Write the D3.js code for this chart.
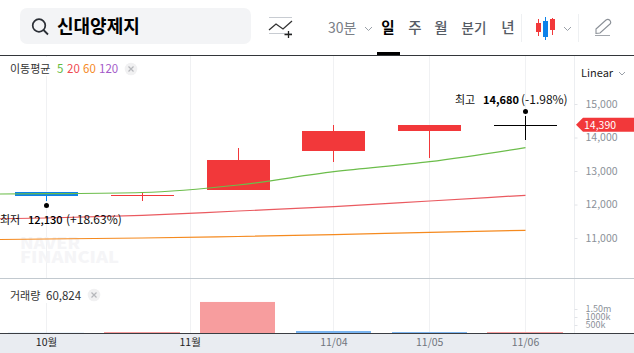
<!DOCTYPE html>
<html><head><meta charset="utf-8">
<script src="https://cdn.jsdelivr.net/npm/d3@7"></script>
<style>
html,body{margin:0;padding:0;background:#fff;overflow:hidden}
svg{display:block}
text{font-family:"Noto Sans CJK KR","Noto Sans",sans-serif}
</style></head><body><svg id="c" width="634" height="353"></svg>
<script>
// Data
const openP  = [12370,12290,12433,13597,14194,14390];
const closeP = [12250,12290,13328,14194,14373,14390];
const highP  = [12370,12390,13687,14373,14373,14640];
const lowP   = [12105,12100,12433,13269,13388,13925];
const candleColors = ["#0c82ea","#f2383a","#f2383a","#f2383a","#f2383a","#000000"];
const ma5   = [12305,12322,12358,12582,12979,13278,13696];
const ma20  = [11552,11597,11678,11806,11934,12104,12275];
const ma60  = [10940,10970,11000,11045,11098,11170,11230];
const maIdx = [-1,0,1,2,3,4,5];
const volume = [8000,62000,1940000,125000,60000,60824];
const volColors = ["#79b4f0","#f79d9e","#f79d9e","#79b4f0","#79b4f0","#f79d9e"];
const priceTicks = [11000,12000,13000,14000,15000];
const volTicks = [500000,1000000,1500000];
const volTickLabels = ["500k","1000k","1.50m"];
const gridIdx = [0,1.5,3,4,5];
const dateLabels = ["10월","11월","11/04","11/05","11/06"];
const periods = ["일","주","월","분기","년"];
const periodX = [388,415,441,474,508];

const svg = d3.select("#c");
const x = d3.scaleLinear().domain([0,5]).range([46,525]);
const y = d3.scaleLinear().domain([11000,15000]).range([238,104]);
const yv = d3.scaleLinear().domain([0,500000]).range([333,325]);
const snapY = v => Math.round(y(v)+0.2);
const FONT='"Noto Sans CJK KR","Noto Sans",sans-serif';
function t(px,py,s,o={}){return svg.append("text").attr("x",px).attr("y",py).text(s)
  .attr("font-size",o.size||12).attr("fill",o.fill||"#222").attr("font-weight",o.weight||400)
  .attr("text-anchor",o.anchor||"start");}

// plot frame
svg.append("clipPath").attr("id","plot").append("rect").attr("x",0).attr("y",56).attr("width",574).attr("height",277);
// grid
svg.selectAll("line.g").data(gridIdx).join("line").attr("class","g")
 .attr("x1",d=>Math.round(x(d))+.5).attr("x2",d=>Math.round(x(d))+.5).attr("y1",56).attr("y2",333).attr("stroke","#f0f1f3");
svg.append("line").attr("x1",574.5).attr("x2",574.5).attr("y1",56).attr("y2",333).attr("stroke","#eceef1");
// legend backings hide the grid
svg.append("rect").attr("x",5).attr("y",57).attr("width",132).attr("height",19).attr("fill","#fff");
svg.append("rect").attr("x",5).attr("y",279).attr("width",100).attr("height",24).attr("fill","#fff");

// header
svg.append("rect").attr("x",20).attr("y",8).attr("width",231).attr("height",36).attr("rx",7).attr("fill","#f3f4f6");
svg.append("circle").attr("cx",39).attr("cy",25.5).attr("r",6.3).attr("fill","none").attr("stroke","#2b2f36").attr("stroke-width",1.7);
svg.append("line").attr("x1",43.5).attr("y1",30).attr("x2",48).attr("y2",34.5).attr("stroke","#2b2f36").attr("stroke-width",1.8);
t(57,33,"신대양제지",{size:18,weight:700,fill:"#000"});
// indicator icon
svg.append("line").attr("x1",269).attr("x2",292).attr("y1",17.5).attr("y2",17.5).attr("stroke","#c8ccd2");
svg.append("line").attr("x1",269).attr("x2",292).attr("y1",33.5).attr("y2",33.5).attr("stroke","#c8ccd2");
svg.append("path").attr("d","M269 30L276 24L283 29L292 21").attr("fill","none").attr("stroke","#333").attr("stroke-width",1.3);
svg.append("path").attr("d","M284.5 34.5H292M288.5 31V38").attr("fill","none").attr("stroke","#222").attr("stroke-width",1.3);
t(328,33,"30분",{size:14,fill:"#7b8087"});
svg.append("path").attr("d","M365 27l3.5 3.5l3.5-3.5").attr("fill","none").attr("stroke","#9aa0a8");
periods.forEach((p,i)=>t(periodX[i],33,p,{size:i==3?13.5:14.5,weight:i==0?700:500,fill:i==0?"#000":"#555b64",anchor:"middle"}));
svg.append("rect").attr("x",377).attr("y",52).attr("width",23).attr("height",3).attr("fill","#000");
svg.append("line").attr("x1",521.5).attr("x2",521.5).attr("y1",14).attr("y2",42).attr("stroke","#eef0f2");
svg.append("line").attr("x1",578.5).attr("x2",578.5).attr("y1",14).attr("y2",42).attr("stroke","#eef0f2");
// candle-type icon
svg.append("rect").attr("x",536).attr("y",23).attr("width",5).attr("height",9).attr("fill","#f2383a");
svg.append("line").attr("x1",538.5).attr("x2",538.5).attr("y1",19).attr("y2",36).attr("stroke","#f2383a");
svg.append("rect").attr("x",543).attr("y",21).attr("width",5).attr("height",16).attr("fill","#0c82ea");
svg.append("line").attr("x1",545.5).attr("x2",545.5).attr("y1",17).attr("y2",40).attr("stroke","#0c82ea");
svg.append("rect").attr("x",550).attr("y",19).attr("width",5).attr("height",11).attr("fill","#f2383a");
svg.append("line").attr("x1",552.5).attr("x2",552.5).attr("y1",18).attr("y2",35).attr("stroke","#f2383a");
svg.append("path").attr("d","M564 27l3.5 3.5l3.5-3.5").attr("fill","none").attr("stroke","#9aa0a8");
// pencil
svg.append("path").attr("d","M596 29L606 20Q608 18.5 610 20.5Q611.5 22.5 610 24L600 33L596 33.5Z").attr("fill","none").attr("stroke","#8b9097").attr("stroke-width",1.1);
svg.append("line").attr("x1",595).attr("x2",610).attr("y1",35.5).attr("y2",35.5).attr("stroke","#a2a6ac");

svg.append("line").attr("x1",0).attr("x2",634).attr("y1",55.5).attr("y2",55.5).attr("stroke","#33363a");
svg.append("line").attr("x1",0).attr("x2",634).attr("y1",278.5).attr("y2",278.5).attr("stroke","#c2c9cf");

// watermark
t(20,249,"NAVER",{size:15.5,weight:900,fill:"#f5f5f7"}).attr("textLength",60).attr("lengthAdjust","spacingAndGlyphs");
t(20,263,"FINANCIAL",{size:15.5,weight:900,fill:"#f5f5f7"}).attr("textLength",99).attr("lengthAdjust","spacingAndGlyphs");

// moving-average legend
t(10,73,"이동평균",{size:11,fill:"#333"});
t(57,73,"5",{size:11.5,fill:"#63bb3f"});
t(67,73,"20",{size:11.5,fill:"#ef4a50"});
t(83,73,"60",{size:11.5,fill:"#f58a1f"});
t(99,73,"120",{size:11.5,fill:"#a45bc9"});
function closeBtn(cx,cy){
 svg.append("circle").attr("cx",cx).attr("cy",cy).attr("r",6.3).attr("fill","#f1f1f2");
 svg.append("path").attr("d",`M${cx-2.5} ${cy-2.5}L${cx+2.5} ${cy+2.5}M${cx+2.5} ${cy-2.5}L${cx-2.5} ${cy+2.5}`).attr("stroke","#b5b7bb").attr("stroke-width",1.2);
}
closeBtn(131,69);

// candles
const plot = svg.append("g").attr("clip-path","url(#plot)");
const idx = d3.range(openP.length);
plot.selectAll("line.w").data(idx).join("line").attr("class","w")
 .attr("x1",i=>Math.round(x(i))+.5).attr("x2",i=>Math.round(x(i))+.5).attr("y1",i=>snapY(highP[i])).attr("y2",i=>snapY(lowP[i]))
 .attr("stroke",i=>candleColors[i]);
plot.selectAll("rect.b").data(idx).join("rect").attr("class","b")
 .attr("x",i=>Math.round(x(i)-31)).attr("width",63)
 .attr("y",i=>snapY(Math.max(openP[i],closeP[i])))
 .attr("height",i=>Math.max(1,snapY(Math.min(openP[i],closeP[i]))-snapY(Math.max(openP[i],closeP[i]))))
 .attr("fill",i=>candleColors[i]);

// moving averages over the candles
const line = d3.line().x((d,i)=>x(maIdx[i])+.5).y(d=>y(d)).curve(d3.curveMonotoneX);
[[ma60,"#f58a1f"],[ma20,"#ea5a60"],[ma5,"#6cbd4b"]].forEach(([s,c])=>{
 plot.append("path").attr("d",line(s)).attr("fill","none").attr("stroke",c).attr("stroke-width",1.2);
});

// high / low annotations
svg.append("circle").attr("cx",x(0)+.5).attr("cy",205.5).attr("r",2.5).attr("fill","#000");
svg.append("circle").attr("cx",x(5)+.5).attr("cy",111.5).attr("r",2.5).attr("fill","#000");
t(0,224,"최저",{size:11,fill:"#111"});
t(28,224,"12,130",{size:11,weight:500,fill:"#000"});
t(66,224,"(+18.63%)",{size:12,fill:"#111"});
t(455,104,"최고",{size:11,fill:"#111"});
t(483,104,"14,680",{size:11,weight:700,fill:"#000"});
t(521,104,"(-1.98%)",{size:12,fill:"#111"});

// y axis
const axisY = svg.append("g").attr("transform","translate(574.5,0)")
 .call(d3.axisRight(y).tickValues(priceTicks).tickSize(3).tickFormat(d3.format(",")));
axisY.select(".domain").remove();
axisY.selectAll("line").attr("stroke","#e2e4e8");
axisY.selectAll("text").attr("font-size",10.5).attr("fill","#8b9199").attr("x",11).attr("font-family",FONT);
t(581,77,"Linear",{size:11,fill:"#222"});
svg.append("path").attr("d","M619 72l3 3l3-3").attr("fill","none").attr("stroke","#9aa0a8");

// price tag
const py = y(closeP[5])+.3;
svg.append("path").attr("d",`M576 ${py}L583 ${py-7}H634V${py+7}H583Z`).attr("fill","#f2383a");
t(584,py+4,d3.format(",")(closeP[5]),{size:10.5,fill:"#fff"});

// volume
svg.append("g").attr("clip-path","url(#plot)").selectAll("rect").data(idx).join("rect")
 .attr("x",i=>Math.round(x(i)-37.7)).attr("width",i=>Math.round(x(i)+37.7)-Math.round(x(i)-37.7))
 .attr("y",i=>yv(volume[i])).attr("height",i=>333-yv(volume[i])).attr("fill",i=>volColors[i]);
t(10,300,"거래량",{size:11,fill:"#333"});
t(46,300,d3.format(",")(volume[5]),{size:11.5,fill:"#333"});
closeBtn(94,295);
const axisV = svg.append("g").attr("transform","translate(574.5,0)")
 .call(d3.axisRight(yv).tickValues(volTicks).tickSize(3).tickFormat((d,i)=>volTickLabels[i]));
axisV.select(".domain").remove();
axisV.selectAll("line").attr("stroke","#e2e4e8");
axisV.selectAll("text").attr("font-size",9).attr("fill","#8b9199").attr("x",11).attr("font-family",FONT);

// x band
svg.append("rect").attr("x",0).attr("y",333).attr("width",634).attr("height",20).attr("fill","#e9ecf1");
svg.append("line").attr("x1",0).attr("x2",634).attr("y1",333.5).attr("y2",333.5).attr("stroke","#3a3d42");
const axisX = svg.append("g").attr("transform","translate(0,333)")
 .call(d3.axisBottom(x).tickValues(gridIdx).tickSize(0).tickFormat((d,i)=>dateLabels[i]));
axisX.select(".domain").remove();
axisX.selectAll("text").attr("font-size",10.5).attr("y",6).attr("font-family",FONT)
 .attr("fill",(d,i)=>i<2?"#222":"#70757d");
</script></body></html>
